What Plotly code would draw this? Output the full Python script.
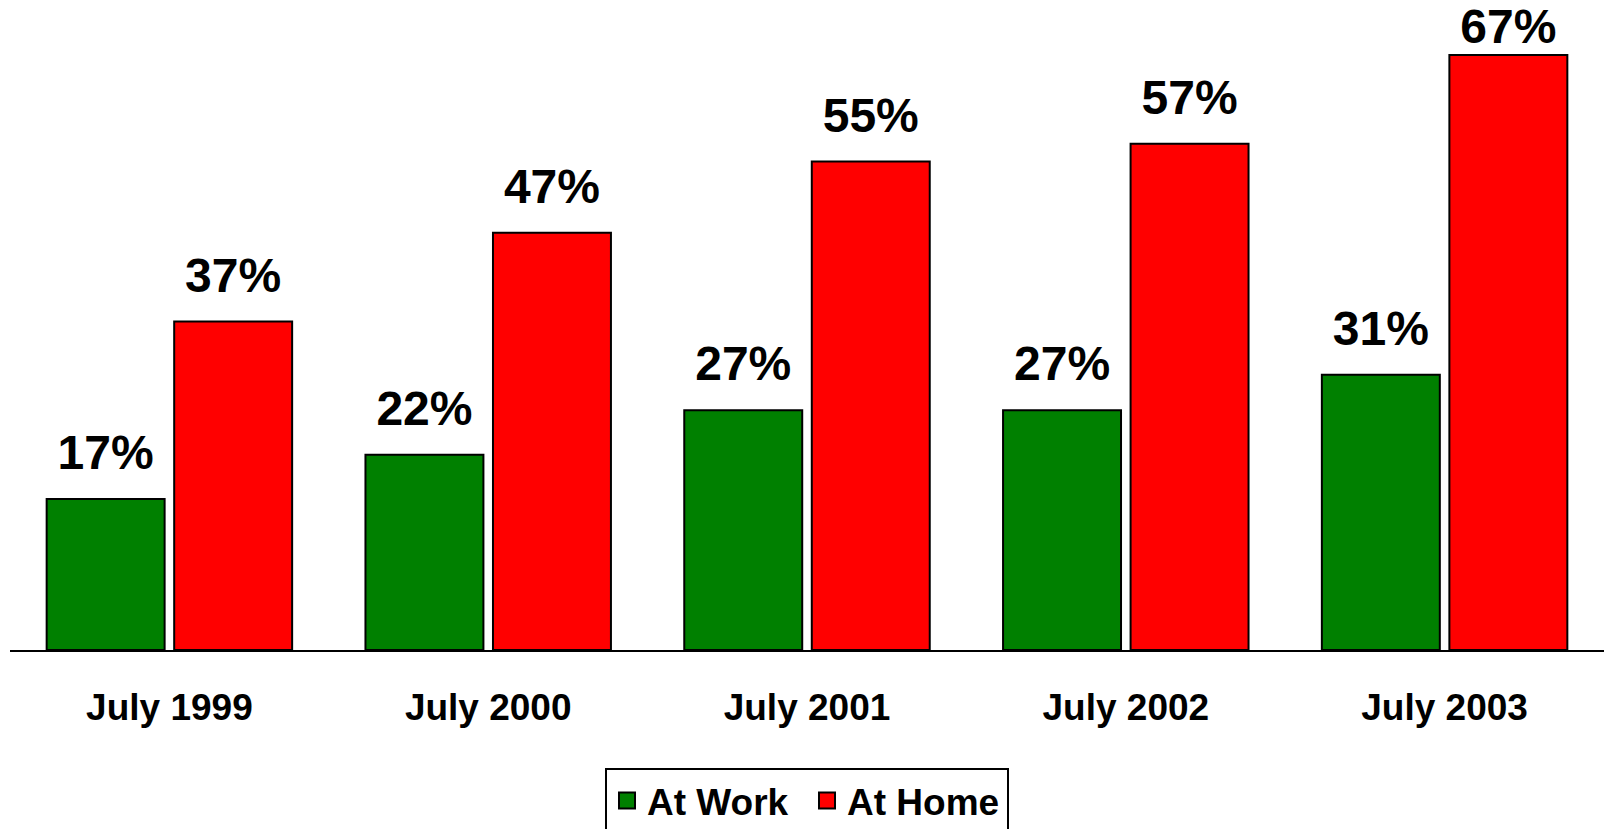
import plotly.graph_objects as go

categories = ["July 1999", "July 2000", "July 2001", "July 2002", "July 2003"]
at_work = [17, 22, 27, 27, 31]
at_home = [37, 47, 55, 57, 67]
series_names = ["At Work", "At Home"]
colors = ["#008000", "#FF0000"]

FONT = "Arial, Liberation Sans, sans-serif"
GAP = 0.20

fig = go.Figure()
for name, vals, col in zip(series_names, [at_work, at_home], colors):
    fig.add_trace(go.Bar(
        x=categories, y=vals, name=name, offsetgroup=name,
        marker=dict(color=col, line=dict(color="black", width=2)),
        hoverinfo="skip", showlegend=False,
    ))

# value labels, aligned with grouped bars
label_sizes = {"At Work": [27, 27, 27, 27, 27], "At Home": [27, 27, 27, 27, 0]}
for name, vals in zip(series_names, [at_work, at_home]):
    fig.add_trace(go.Scatter(
        x=categories, y=vals, offsetgroup=name, mode="markers+text",
        text=[f"{v}%" for v in vals], textposition="top center",
        textfont=dict(family=FONT, size=48, color="black", weight="bold"),
        marker=dict(size=label_sizes[name], opacity=0),
        showlegend=False, hoverinfo="skip", cliponaxis=False,
    ))

# legend entries (square swatches)
for name, col in zip(series_names, colors):
    fig.add_trace(go.Scatter(
        x=[None], y=[None], name=name, offsetgroup=name, mode="markers",
        marker=dict(symbol="square", size=16, color=col,
                    line=dict(color="black", width=2)),
        hoverinfo="skip",
    ))

fig.update_layout(
    width=1604, height=829,
    margin=dict(l=10, r=0, t=0, b=179, autoexpand=False),
    plot_bgcolor="white", paper_bgcolor="white",
    barmode="group", scattermode="group",
    bargap=GAP, bargroupgap=0.075, scattergap=GAP,
    showlegend=True,
    legend=dict(
        orientation="h", x=0.5, xanchor="center", y=-0.1815, yanchor="top",
        font=dict(family=FONT, size=37, color="black", weight="bold"),
        bordercolor="black", borderwidth=2, bgcolor="white",
        itemwidth=30, entrywidth=155,
    ),
    xaxis=dict(
        showline=True, linecolor="black", linewidth=2, showgrid=False,
        ticks="", ticklabelstandoff=24,
        tickfont=dict(family=FONT, size=37, color="black", weight="bold"),
    ),
    yaxis=dict(range=[0, 73.2], visible=False, showgrid=False),
)

fig.write_html("out.html", config={"displayModeBar": False},
               post_script="document.body.style.margin='0';")
